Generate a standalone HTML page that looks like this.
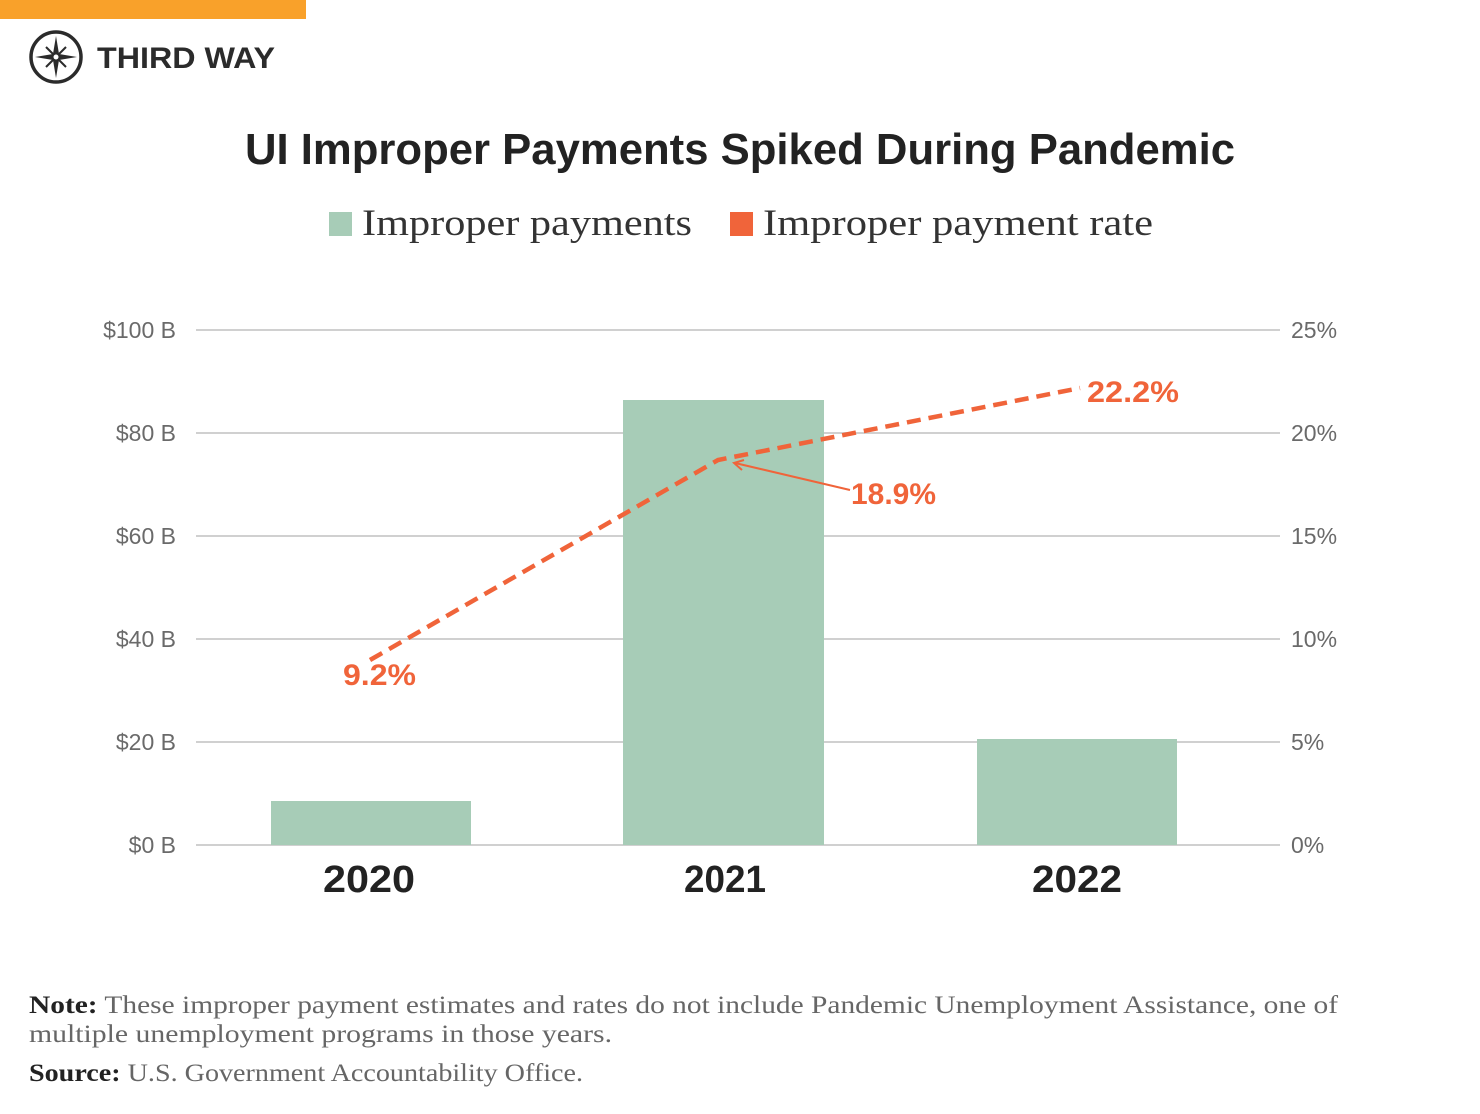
<!DOCTYPE html>
<html><head><meta charset="utf-8"><style>
html,body{margin:0;padding:0;background:#fff;width:1480px;height:1114px;overflow:hidden}
</style></head><body>
<svg width="1480" height="1114" viewBox="0 0 1480 1114" xmlns="http://www.w3.org/2000/svg">
<rect x="0" y="0" width="306" height="19" fill="#f9a12a"/>
<circle cx="56" cy="57" r="25" fill="none" stroke="#2b2b2b" stroke-width="3.5"/>
<polygon points="56,36 59,54 56,57 53,54" fill="#2b2b2b"/>
<polygon points="56,78 59,60 56,57 53,60" fill="#2b2b2b"/>
<polygon points="35,57 53,54 56,57 53,60" fill="#2b2b2b"/>
<polygon points="77,57 59,54 56,57 59,60" fill="#2b2b2b"/>
<line x1="46" y1="47" x2="66" y2="67" stroke="#2b2b2b" stroke-width="2"/>
<line x1="66" y1="47" x2="46" y2="67" stroke="#2b2b2b" stroke-width="2"/>
<circle cx="56" cy="57" r="2.5" fill="#fff"/>
<text x="97" y="68" font-family="Liberation Sans, sans-serif" font-weight="bold" font-size="30" fill="#2b2b2b" textLength="178" lengthAdjust="spacingAndGlyphs">THIRD WAY</text>
<text x="245" y="164" font-family="Liberation Sans, sans-serif" font-weight="bold" font-size="44" fill="#222" textLength="990" lengthAdjust="spacingAndGlyphs">UI Improper Payments Spiked During Pandemic</text>
<rect x="329" y="212" width="23" height="24" fill="#a7ccb7"/>
<text x="362" y="235" font-family="Liberation Serif, serif" font-size="37" fill="#333" textLength="330" lengthAdjust="spacingAndGlyphs">Improper payments</text>
<rect x="730" y="212" width="23" height="24" fill="#f0643a"/>
<text x="763" y="235" font-family="Liberation Serif, serif" font-size="37" fill="#333" textLength="390" lengthAdjust="spacingAndGlyphs">Improper payment rate</text>
<g stroke="#d0d0d0" stroke-width="2">
<line x1="196" y1="330" x2="1280" y2="330"/>
<line x1="196" y1="433" x2="1280" y2="433"/>
<line x1="196" y1="536" x2="1280" y2="536"/>
<line x1="196" y1="639" x2="1280" y2="639"/>
<line x1="196" y1="742" x2="1280" y2="742"/>
<line x1="196" y1="845" x2="1280" y2="845"/>
</g>
<g font-family="Liberation Sans, sans-serif" font-size="23" fill="#6a6a6a" text-anchor="end">
<text x="176" y="338">$100 B</text>
<text x="176" y="441">$80 B</text>
<text x="176" y="544">$60 B</text>
<text x="176" y="647">$40 B</text>
<text x="176" y="750">$20 B</text>
<text x="176" y="853">$0 B</text>
</g>
<g font-family="Liberation Sans, sans-serif" font-size="23" fill="#6a6a6a">
<text x="1291" y="338">25%</text>
<text x="1291" y="441">20%</text>
<text x="1291" y="544">15%</text>
<text x="1291" y="647">10%</text>
<text x="1291" y="750">5%</text>
<text x="1291" y="853">0%</text>
</g>
<g fill="#a7ccb7">
<rect x="271" y="801" width="200" height="44"/>
<rect x="623" y="400" width="201" height="445"/>
<rect x="977" y="739" width="200" height="106"/>
</g>
<g font-family="Liberation Sans, sans-serif" font-weight="bold" font-size="38" fill="#222">
<text x="323" y="892" textLength="92" lengthAdjust="spacingAndGlyphs">2020</text>
<text x="684" y="892" textLength="82" lengthAdjust="spacingAndGlyphs">2021</text>
<text x="1032" y="892" textLength="90" lengthAdjust="spacingAndGlyphs">2022</text>
</g>
<polyline points="370,660 718,460 1080,388" fill="none" stroke="#f0643a" stroke-width="4.5" stroke-dasharray="14,8"/>
<line x1="850" y1="490" x2="735" y2="463" stroke="#f0643a" stroke-width="2"/>
<polyline points="744,460 734,463 742,470" fill="none" stroke="#f0643a" stroke-width="2"/>
<g font-family="Liberation Sans, sans-serif" font-weight="bold" font-size="30" fill="#f0643a">
<text x="343" y="685" textLength="73" lengthAdjust="spacingAndGlyphs">9.2%</text>
<text x="851" y="504" textLength="85" lengthAdjust="spacingAndGlyphs">18.9%</text>
<text x="1087" y="402" textLength="92" lengthAdjust="spacingAndGlyphs">22.2%</text>
</g>
<g font-family="Liberation Serif, serif" font-size="25" fill="#666">
<text x="29" y="1013" textLength="1309" lengthAdjust="spacingAndGlyphs"><tspan font-weight="bold" fill="#222">Note:</tspan> These improper payment estimates and rates do not include Pandemic Unemployment Assistance, one of</text>
<text x="29" y="1042" textLength="583" lengthAdjust="spacingAndGlyphs">multiple unemployment programs in those years.</text>
<text x="29" y="1081" textLength="554" lengthAdjust="spacingAndGlyphs"><tspan font-weight="bold" fill="#222">Source:</tspan> U.S. Government Accountability Office.</text>
</g>
</svg>
</body></html>
